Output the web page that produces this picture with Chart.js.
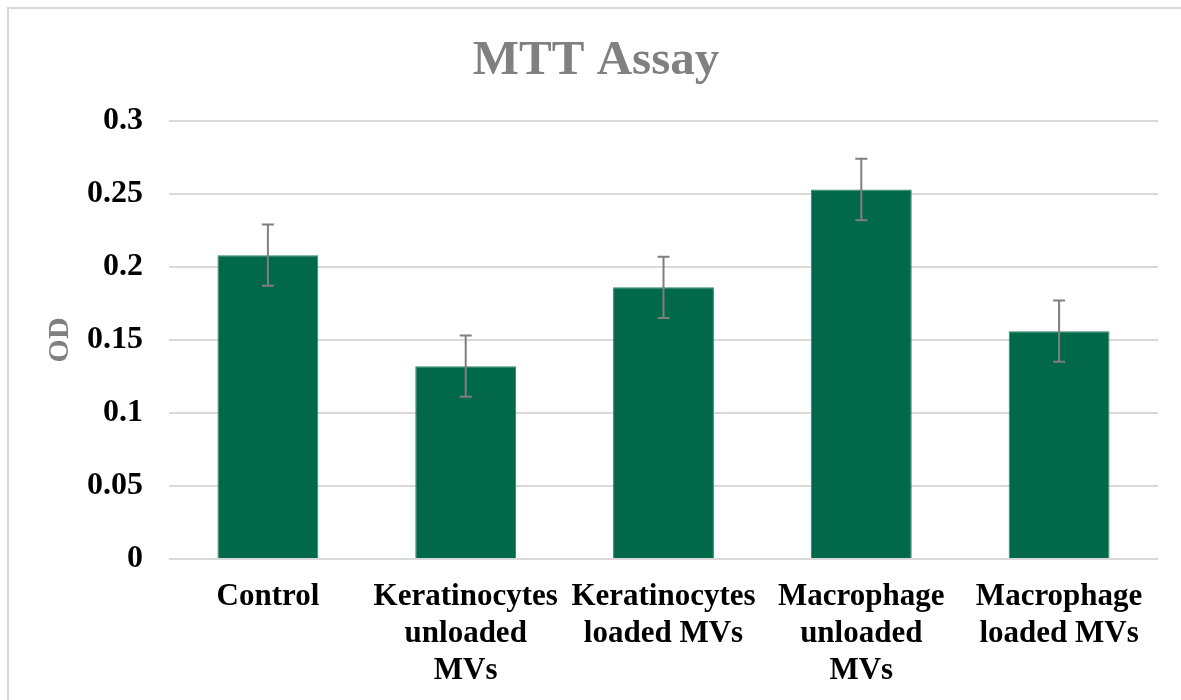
<!DOCTYPE html>
<html>
<head>
<meta charset="utf-8">
<script src="https://cdn.jsdelivr.net/npm/chart.js@4.4.0/dist/chart.umd.min.js"></script>
<style>
  html, body { margin: 0; padding: 0; background: #fff; }
  #wrap { position: relative; width: 1181px; height: 700px; overflow: hidden; }
  #frame { position: absolute; left: 7px; top: 7px; width: 1190px; height: 720px; border: 2px solid #d9d9d9; box-sizing: border-box; }
  canvas { position: absolute; left: 0; top: 0; }
</style>
</head>
<body>
<div id="wrap">
  <div id="frame"></div>
  <canvas id="mtt" width="1181" height="700"></canvas>
</div>
<script>
// categories (split into lines as they wrap in the original)
const categories = [
  ['Control'],
  ['Keratinocytes', 'unloaded', 'MVs'],
  ['Keratinocytes', 'loaded MVs'],
  ['Macrophage', 'unloaded', 'MVs'],
  ['Macrophage', 'loaded MVs']
];
const odValues = [0.208, 0.132, 0.186, 0.253, 0.156];
const odErrors = [0.021, 0.021, 0.021, 0.021, 0.021];
const yTicks = [0, 0.05, 0.1, 0.15, 0.2, 0.25, 0.3];

const serif = '"Liberation Serif", "Times New Roman", serif';

// draws the +/- error whiskers using the chart's scales
const errorBars = {
  id: 'errorBars',
  afterDatasetsDraw(chart) {
    const ctx = chart.ctx;
    const meta = chart.getDatasetMeta(0);
    const y = chart.scales.y;
    ctx.save();
    ctx.strokeStyle = '#7f7f7f';
    ctx.lineWidth = 2;
    meta.data.forEach((bar, i) => {
      const v = odValues[i], e = odErrors[i];
      const yTop = y.getPixelForValue(v + e);
      const yBot = y.getPixelForValue(v - e);
      const x = bar.x;
      ctx.beginPath();
      ctx.moveTo(x, yTop); ctx.lineTo(x, yBot);
      ctx.moveTo(x - 6, yTop); ctx.lineTo(x + 6, yTop);
      ctx.moveTo(x - 6, yBot); ctx.lineTo(x + 6, yBot);
      ctx.stroke();
    });
    ctx.restore();
  }
};

new Chart(document.getElementById('mtt'), {
  type: 'bar',
  data: {
    labels: categories,
    datasets: [{
      label: 'OD',
      data: odValues,
      backgroundColor: '#02684a',
      borderColor: '#2f8467',
      borderWidth: 1,
      barPercentage: 0.51,
      categoryPercentage: 1
    }]
  },
  options: {
    responsive: false,
    animation: false,
    layout: { padding: { left: 34, right: 23, top: 0, bottom: 0 } },
    plugins: {
      legend: { display: false },
      tooltip: { enabled: false },
      title: {
        display: true,
        text: 'MTT Assay',
        color: '#808080',
        font: { family: serif, size: 49, weight: 'bold' },
        padding: { top: 32, bottom: 30 }
      }
    },
    scales: {
      x: {
        grid: { display: false, drawTicks: false },
        border: { display: false },
        ticks: {
          color: '#000',
          font: { family: serif, size: 31, weight: 'bold', lineHeight: 1.2 },
          padding: 19,
          maxRotation: 0,
          autoSkip: false
        },
        afterFit(scale) { scale.height = 141; }
      },
      y: {
        min: 0,
        max: 0.3,
        afterBuildTicks(scale) { scale.ticks = yTicks.map(v => ({ value: v })); },
        grid: { color: '#d9d9d9', lineWidth: 2, drawTicks: false },
        border: { display: false },
        ticks: {
          color: '#000',
          font: { family: serif, size: 32, weight: 'bold' },
          padding: 26,
          callback: v => String(v)
        },
        title: {
          display: true,
          text: 'OD',
          color: '#808080',
          font: { family: serif, size: 30, weight: 'bold' },
          padding: { top: 8, bottom: 0 }
        },
        afterFit(scale) { scale.width = 135; }
      }
    }
  },
  plugins: [errorBars]
});
</script>
</body>
</html>
